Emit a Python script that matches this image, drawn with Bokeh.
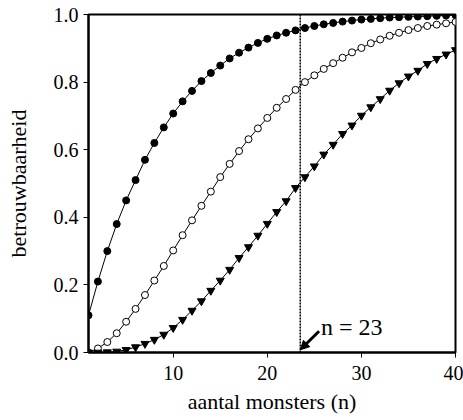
from bokeh.plotting import figure
from bokeh.models import FixedTicker, Label, Arrow, NormalHead, Span, PrintfTickFormatter, Range1d
from bokeh.embed import file_html
from bokeh.resources import INLINE

n_values = list(range(1, 41))
filled = [0.11, 0.21, 0.30, 0.38, 0.45, 0.51, 0.57, 0.62, 0.666, 0.707,
          0.743, 0.774, 0.803, 0.827, 0.849, 0.870, 0.887, 0.902, 0.916, 0.928,
          0.938, 0.946, 0.953, 0.960, 0.966, 0.971, 0.975, 0.979, 0.982, 0.985,
          0.987, 0.989, 0.991, 0.992, 0.993, 0.994, 0.995, 0.996, 0.997, 0.998]
open_c = [0.0, 0.012, 0.031, 0.057, 0.091, 0.129, 0.170, 0.213, 0.256, 0.302,
          0.347, 0.391, 0.434, 0.476, 0.519, 0.558, 0.596, 0.631, 0.663, 0.694,
          0.724, 0.750, 0.777, 0.800, 0.820, 0.839, 0.856, 0.872, 0.888, 0.901,
          0.915, 0.926, 0.937, 0.946, 0.954, 0.960, 0.966, 0.970, 0.974, 0.978]
triangles = [0.0, 0.0, 0.001, 0.003, 0.008, 0.016, 0.026, 0.038, 0.053, 0.073,
             0.097, 0.124, 0.152, 0.183, 0.213, 0.245, 0.280, 0.312, 0.346, 0.381,
             0.416, 0.448, 0.487, 0.519, 0.551, 0.586, 0.615, 0.647, 0.672, 0.701,
             0.726, 0.750, 0.775, 0.797, 0.817, 0.834, 0.854, 0.869, 0.882, 0.895]
x_ticks = [10, 20, 30, 40]
y_ticks = [0.0, 0.2, 0.4, 0.6, 0.8, 1.0]
marker_n = 23.5
annotation_text = "n = 23"

FONT = "Liberation Serif"

p = figure(width=463, height=420, output_backend="svg", toolbar_location=None,
           x_range=Range1d(1, 40), y_range=Range1d(0, 1.0),
           min_border_left=88, min_border_right=8, min_border_top=14, min_border_bottom=68)
p.grid.visible = False
p.outline_line_color = "black"
p.outline_line_width = 2
p.background_fill_color = "white"

for ax in (p.xaxis[0], p.yaxis[0]):
    ax.axis_line_width = 2
    ax.axis_line_color = "black"
    ax.major_tick_out = 5
    ax.major_tick_in = 0
    ax.minor_tick_out = 0
    ax.minor_tick_in = 0
    ax.major_label_text_font = FONT
    ax.major_label_text_font_size = "20px"
    ax.major_label_text_color = "black"
    ax.major_tick_line_color = "black"
    ax.major_tick_line_width = 1
    ax.axis_label_text_font = FONT
    ax.axis_label_text_font_size = "22px"
    ax.axis_label_text_font_style = "normal"
    ax.axis_label_text_color = "black"

p.xaxis.ticker = FixedTicker(ticks=x_ticks)
p.yaxis.ticker = FixedTicker(ticks=y_ticks)
p.yaxis.formatter = PrintfTickFormatter(format="%.1f")
p.xaxis.major_label_standoff = 8
p.yaxis.major_label_standoff = 5

p.yaxis.axis_label = "betrouwbaarheid"
p.yaxis.axis_label_standoff = 20
p.xaxis.axis_label = "aantal monsters (n)"
p.xaxis.axis_label_standoff = 6

# curves
p.line(n_values, filled, line_color="black", line_width=1)
p.scatter(n_values, filled, marker="circle", size=7, fill_color="black", line_color="black")
p.line(n_values, open_c, line_color="black", line_width=1)
p.scatter(n_values, open_c, marker="circle", size=7, fill_color="white", line_color="black")
p.line(n_values, triangles, line_color="black", line_width=1)
p.scatter(n_values, triangles, marker="inverted_triangle", size=8, fill_color="black", line_color="black")

# vertical dotted line
p.add_layout(Span(location=marker_n, dimension="height", line_color="black",
                  line_dash="2 1", line_width=1.5))

# arrow and annotation
p.add_layout(Arrow(end=NormalHead(size=9, fill_color="black", line_color="black"),
                   x_start=25.5, y_start=0.063, x_end=marker_n, y_end=0.008,
                   line_color="black", line_width=3))
p.add_layout(Label(x=25.7, y=0.075, text=annotation_text, text_baseline="alphabetic",
                   text_color="black", text_font=FONT, text_font_size="24px"))

open("out.html", "w").write(file_html(p, INLINE))
